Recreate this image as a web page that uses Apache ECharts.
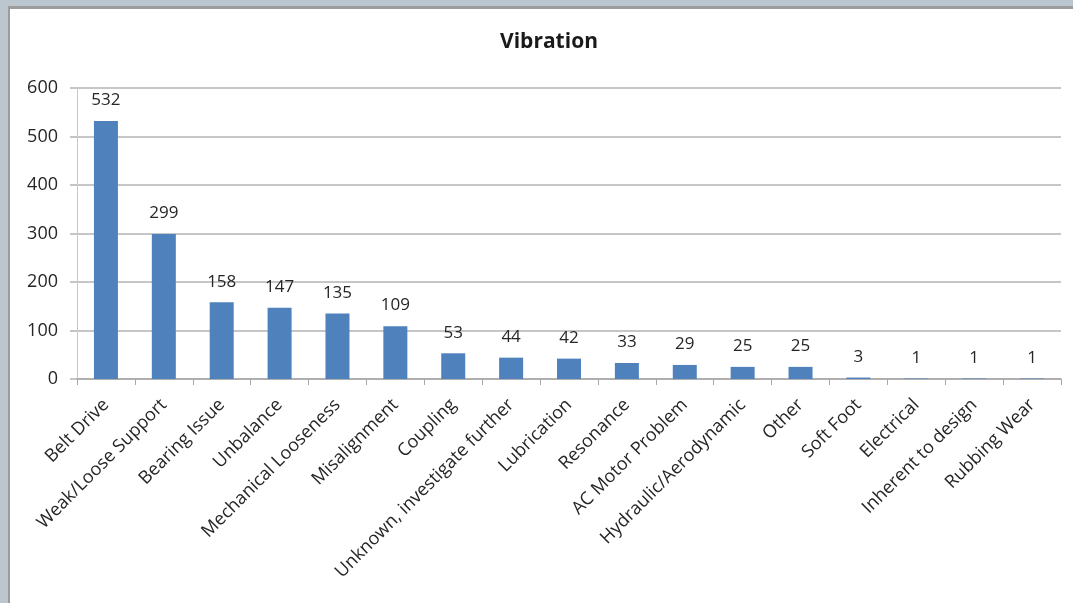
<!DOCTYPE html>
<html>
<head>
<meta charset="utf-8">
<script src="https://cdn.jsdelivr.net/npm/echarts@6/dist/echarts.min.js"></script>
<style>
  html, body { margin: 0; padding: 0; background: #bcc6ce; width: 1073px; height: 603px; overflow: hidden; }
  #frame { position: absolute; left: 8px; top: 6px; width: 1065px; height: 597px; background: #9c9c9c; }
  #chart { position: absolute; left: 10px; top: 9px; width: 1063px; height: 594px; background: #ffffff; }
</style>
</head>
<body>
<div id="frame"></div>
<div id="chart"></div>
<script>
const categories = ["Belt Drive", "Weak/Loose Support", "Bearing Issue", "Unbalance", "Mechanical Looseness", "Misalignment", "Coupling", "Unknown, investigate further", "Lubrication", "Resonance", "AC Motor Problem", "Hydraulic/Aerodynamic", "Other", "Soft Foot", "Electrical", "Inherent to design", "Rubbing Wear"];
const counts = [532, 299, 158, 147, 135, 109, 53, 44, 42, 33, 29, 25, 25, 3, 1, 1, 1];
const yTicks = { min: 0, max: 600, interval: 100 };

const chart = echarts.init(document.getElementById('chart'), null, { renderer: 'canvas' });
const font = '"Open Sans", "Noto Sans", sans-serif';
chart.setOption({
  backgroundColor: '#ffffff',
  animation: false,
  title: {
    text: 'Vibration',
    left: 534,
    top: 18,
    textAlign: 'center',
    textStyle: { fontFamily: font, fontSize: 21, fontWeight: 'bold', color: '#1a1a1a' }
  },
  grid: { left: 67, right: 12, top: 79, bottom: 224, containLabel: false },
  xAxis: {
    type: 'category',
    data: categories,
    axisLine: { show: true, lineStyle: { color: '#a8a8a8', width: 1.5 } },
    axisTick: { show: true, alignWithLabel: false, length: 6, lineStyle: { color: '#a8a8a8' } },
    axisLabel: {
      interval: 0,
      rotate: 45,
      margin: 23,
      fontFamily: font,
      fontSize: 18,
      color: '#262626'
    }
  },
  yAxis: {
    type: 'value',
    min: yTicks.min,
    max: yTicks.max,
    interval: yTicks.interval,
    axisLine: { show: true, lineStyle: { color: '#c8c8c8', width: 1 } },
    axisTick: { show: true, length: 7, lineStyle: { color: '#b3b3b3', width: 1.5 } },
    splitLine: { show: true, lineStyle: { color: '#b3b3b3', width: 1.5 } },
    axisLabel: { fontFamily: font, fontSize: 18, color: '#262626', margin: 19 }
  },
  series: [{
    type: 'bar',
    data: counts,
    barWidth: 24,
    itemStyle: { color: '#4f81bd' },
    label: {
      show: true,
      position: 'top',
      distance: 12,
      fontFamily: font,
      fontSize: 17,
      color: '#262626'
    }
  }]
});
</script>
</body>
</html>
